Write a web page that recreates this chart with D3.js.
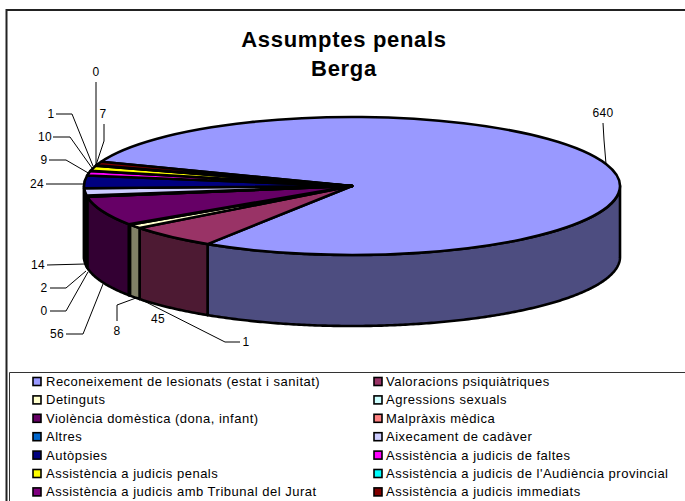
<!DOCTYPE html>
<html>
<head>
<meta charset="utf-8">
<script src="https://cdn.jsdelivr.net/npm/d3@7/dist/d3.min.js"></script>
<style>
html,body{margin:0;padding:0;background:#fff;overflow:hidden}
text{font-family:"Liberation Sans",Arial,sans-serif;fill:#000}
</style>
</head>
<body>
<svg id="c" width="685" height="501"></svg>
<script>
const categories = ["Reconeixement de lesionats (estat i sanitat)","Valoracions psiquiàtriques","Detinguts","Agressions sexuals","Violència domèstica (dona, infant)","Malpràxis mèdica","Altres","Aixecament de cadàver","Autòpsies","Assistència a judicis de faltes","Assistència a judicis penals","Assistència a judicis de l'Audiència provincial","Assistència a judicis amb Tribunal del Jurat","Assistència a judicis immediats"];
const values = [640,45,8,1,56,0,2,14,24,9,10,1,0,7];
const colors = ["#9999FF","#993366","#FFFFCC","#CCFFFF","#660066","#FF8080","#0066CC","#CCCCFF","#000080","#FF00FF","#FFFF00","#00FFFF","#800080","#800000"];
const titleLines = ["Assumptes penals","Berga"];

// Label placement: [slice index, text x, text y, leader points]
const labelLayout = [
 [0,603,113,[[603,123],[604,140],[606,164]]],
 [1,158,319,null],
 [3,246,342,[[240,342],[225,342],[140,299]]],
 [2,117,331,[[117,321],[117,305],[136,298]]],
 [4,57,334,[[66,334],[83,334],[103,284]]],
 [5,44,311,[[50,311],[66,311],[88,272]]],
 [6,44,288,[[50,288],[66,288],[86,271]]],
 [7,38,265,[[47,265],[85,264]]],
 [8,37,184,[[46,184],[83,184]]],
 [9,44,160,[[49,160],[66,160],[90,174]]],
 [10,45,137,[[53,137],[70,137],[92,168]]],
 [11,51,114,[[56,114],[72,114],[93,166]]],
 [12,96,72,[[96,82],[96,165]]],
 [13,103,114,[[104,124],[104,141],[96,165]]]
];

const svg = d3.select("#c");
const cx = 352, cy = 186, rx = 268, ry = 69, depth = 71;
const startDeg = -69.4;
const toRad = d => d * Math.PI / 180;

// frame and legend box
svg.append("path").attr("d","M6.5,501V10H685").attr("fill","none").attr("stroke","#222").attr("stroke-width",2);
svg.append("path").attr("d","M9.5,501V372.5H685").attr("fill","none").attr("stroke","#333").attr("stroke-width",1);

// title
svg.append("g").selectAll("text").data(titleLines).join("text")
  .attr("x",344).attr("y",(d,i)=>47+i*29)
  .attr("text-anchor","middle").attr("font-size",22).attr("letter-spacing",0.7).attr("font-weight","bold").text(d=>d);

// pie
const pie = d3.pie().value(d=>d).sort(null).startAngle(toRad(startDeg)).endAngle(toRad(startDeg+360));
const arcs = pie(values);
const px = a => cx + rx*Math.sin(a);
const py = a => cy - ry*Math.cos(a);
const line = d3.line();

// side walls: only the front half of the drum is visible
const sideG = svg.append("g");
const lo = Math.PI/2, hi = 3*Math.PI/2;
arcs.forEach((s,i)=>{
  const segs = [[s.startAngle,s.endAngle],[s.startAngle+2*Math.PI,s.endAngle+2*Math.PI]];
  segs.forEach(([a0,a1])=>{
    const a = Math.max(a0,lo), b = Math.min(a1,hi);
    if(b<=a) return;
    const n = Math.max(2,Math.ceil((b-a)/0.01));
    const ang = d3.range(n+1).map(k=>a+(b-a)*k/n);
    const top = ang.map(t=>[px(t),py(t)]);
    const bot = ang.map(t=>[px(t),py(t)+depth]).reverse();
    sideG.append("path").attr("d",line(top.concat(bot))+"Z")
      .attr("fill",d3.interpolateRgb(colors[i],"#000")(0.5))
      .attr("stroke","#000").attr("stroke-width",2.6).attr("stroke-linejoin","round");
  });
});

// top faces
const arc = d3.arc().innerRadius(0).outerRadius(rx);
svg.append("g").attr("transform",`translate(${cx},${cy}) scale(1,${ry/rx})`)
  .selectAll("path").data(arcs).join("path")
  .attr("d",arc).attr("fill",(d,i)=>colors[i])
  .attr("stroke","#000").attr("stroke-width",2.6)
  .attr("stroke-linejoin","round").attr("vector-effect","non-scaling-stroke");

// leaders and labels
const lab = svg.append("g");
labelLayout.forEach(([i,x,y,pts])=>{
  if(pts) lab.append("path").attr("d",line(pts)).attr("fill","none").attr("stroke","#000").attr("stroke-width",1);
  lab.append("text").attr("x",x).attr("y",y+4).attr("text-anchor","middle").attr("font-size",12).attr("letter-spacing",0.3).text(values[i]);
});

// legend
const leg = svg.append("g");
categories.forEach((c,i)=>{
  const col = i%2, row = Math.floor(i/2);
  const y = 381.5 + row*18.4;
  const x0 = col ? 374 : 33;
  leg.append("rect").attr("x",x0).attr("y",y-4).attr("width",8).attr("height",8)
    .attr("fill",colors[i]).attr("stroke","#000").attr("stroke-width",1.6);
  leg.append("text").attr("x",col?386:46).attr("y",y+4.5).attr("font-size",13).attr("letter-spacing",0.5).text(c);
});
</script>
</body>
</html>
